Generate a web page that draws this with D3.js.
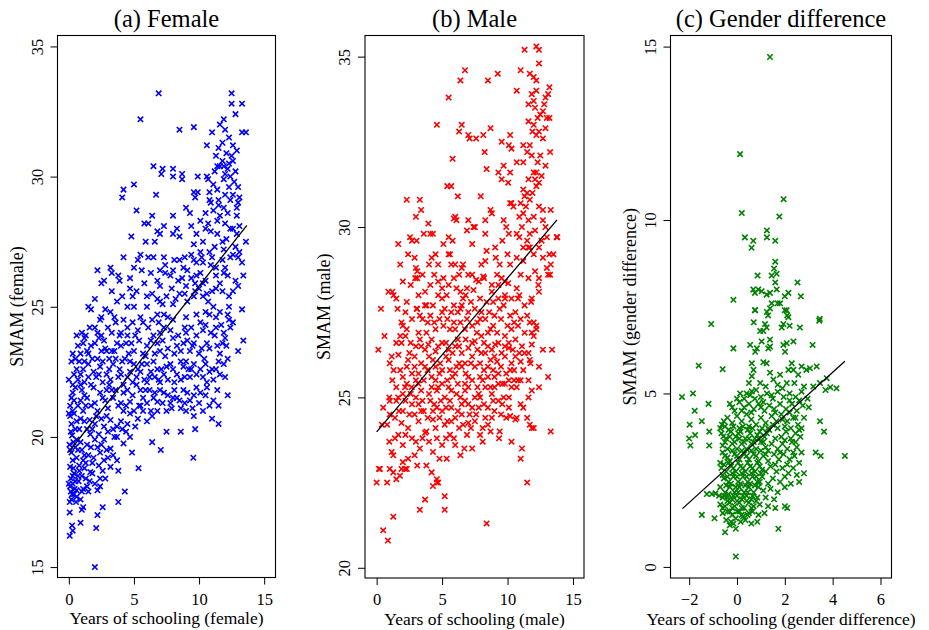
<!DOCTYPE html>
<html>
<head>
<meta charset="utf-8">
<script src="https://cdn.jsdelivr.net/npm/d3@7"></script>
<style>
  body { margin: 0; background: #fff; }
  svg text { font-family: "Liberation Serif", "DejaVu Serif", serif; }
</style>
</head>
<body>
<div id="chart"></div>
<script>
// [years of schooling, SMAM]
const femalePoints = [
  [6.9,33.2],[12.5,33.2],[12.5,32.8],[13.3,32.8],[12.8,32.4],[11.6,32.0],[11.9,32.2],[5.5,32.2],[8.5,31.8],[9.6,31.9],[13.3,31.7],[13.6,31.7],[12.3,31.5],[11.0,31.7],[11.8,31.3],[12.6,31.2],[10.6,31.2],[11.3,30.8],[12.1,30.9],[12.6,30.6],[12.2,30.3],[11.8,30.6],[12.4,30.0],[11.6,30.4],[12.0,30.1],[12.7,29.8],[11.2,30.2],[10.6,30.0],[11.9,29.9],
  [6.5,30.4],[7.2,30.3],[8.0,30.3],[8.7,30.1],
  [4.2,29.5],[4.1,29.2],[5.0,29.7],[6.7,29.3],[7.1,30.1],[8.0,30.0],[8.7,29.9],[9.9,30.0],[10.7,29.9],
  [9.6,29.4],[9.9,29.4],[9.7,29.2],[10.8,29.4],[11.4,29.5],[12.0,29.3],[10.8,29.1],[11.5,29.1],[12.4,29.1],[13.1,29.2],[13.0,29.6],
  [5.2,28.7],[9.0,28.8],[9.3,28.6],[11.1,28.7],[11.6,28.5],[11.9,28.8],[6.4,28.5],[6.1,28.2],[8.0,28.5],[10.1,28.3],[10.7,28.2],[10.9,27.9],[12.0,28.2],[12.9,28.5],[13.1,28.1],
  [5.8,28.2],[6.8,27.9],[7.3,28.1],[7.0,27.8],[8.0,27.8],[8.3,28.0],[8.5,27.7],[9.4,28.1],[9.8,27.8],[4.8,27.7],[5.9,27.5],[6.6,27.5],[9.6,27.4],[10.3,27.5],[12.1,27.6],[13.6,27.5],[12.8,27.3],[11.4,27.8],
  [12.5,30.8],[11.4,30.4],[12.8,30.2],[11.9,30.4],[12.3,29.6],[11.1,29.7],[12.6,29.3],[12.9,28.8],[11.4,28.3],[12.4,28.0],[10.5,28.6],[11.8,27.5],[12.6,27.0],[11.0,26.9],[13.3,26.7],[12.2,26.2],[10.9,26.6],[10.5,28.0],
  [11.5,28.9],[12.2,28.6],[13.0,29.0],[12.6,28.0],[11.2,27.3],[10.2,26.9],[11.8,26.8],[12.9,27.8],[12.3,30.5],[12.9,31.0],[12.0,31.8],[11.5,31.1],[10.9,29.0],[11.9,27.2],
  [4.2,26.9],[5.5,27.0],[6.1,26.9],[6.5,26.9],[7.3,26.9],[8.1,26.8],[8.9,26.9],[9.4,27.0],[9.6,26.8],[10.1,27.1],[10.3,26.7],[10.8,27.1],[11.3,26.5],[12.0,26.5],[12.4,26.9],[13.0,26.9],[13.1,27.1],[2.2,26.4],[3.2,26.5],[3.3,26.3],[5.0,26.5],[5.6,26.4],[7.4,26.6],[7.4,26.3],[8.0,26.4],[8.8,26.5],[9.1,26.4],[9.8,26.7],
  [2.5,25.9],[2.7,26.0],[3.8,26.2],[3.9,26.0],[4.7,26.1],[4.7,25.7],[3.3,25.6],[6.8,26.0],[7.0,25.8],[7.8,26.2],[8.4,26.0],[8.7,26.1],[9.8,26.2],[10.1,26.3],[9.7,25.9],[10.3,25.9],[11.3,26.2],[11.9,26.3],[11.6,25.9],[11.3,25.7],[13.4,26.2],[13.0,25.8],[12.6,25.6],
  [4.5,25.0],[5.2,25.6],[5.8,25.9],[6.4,25.5],[7.2,25.1],[7.9,25.7],[8.5,25.5],[9.0,25.8],[9.4,26.1],[10.0,25.7],[10.6,25.5],[5.3,26.8],[6.3,26.3],[7.0,26.4],[8.5,26.8],[3.7,25.2],[2.8,24.9],
  [7.0,25.2],[8.0,25.1],[8.9,25.5],[9.7,25.6],[10.5,26.0],[11.0,25.6],[11.8,25.6],[12.3,25.4],[12.8,26.0],[12.2,24.7],[11.7,24.3],[10.5,24.8],[5.0,25.0],[3.5,24.6],[2.5,24.6],
  [1.5,25.0],[2.0,25.3],[4.1,25.4],[4.9,25.4],[6.0,25.4],[6.0,25.0],[6.8,25.3],[7.5,25.4],[8.2,25.3],[9.1,25.2],[9.6,25.4],[10.3,25.4],[10.7,25.2],[11.1,25.0],[11.6,24.8],[12.3,25.0],[3.2,24.8],[4.2,24.5],[5.5,24.6],[6.8,24.7],[7.3,24.7],[7.6,24.6],[9.0,24.6],[9.8,24.7],[10.8,24.7],[11.3,24.6],[12.6,24.4],[12.3,24.5],[13.3,24.9],[1.7,24.9],
  [1.0,24.0],[1.2,23.8],[1.4,23.3],[1.7,23.5],[2.3,23.8],[2.4,24.5],[2.7,23.7],[2.9,23.3],[3.6,24.4],[4.5,24.2],[4.5,23.9],[4.8,23.6],[5.3,24.1],[5.7,24.4],[6.1,24.2],[6.5,23.9],[6.8,23.6],[7.0,23.3],[7.3,24.2],[7.8,24.1],[8.4,23.9],[8.8,23.6],[9.1,23.7],[9.3,23.3],[9.8,23.9],[10.1,24.4],[10.6,23.6],[11.2,23.9],[11.9,24.0],[12.1,23.5],[12.2,23.0],[13.4,23.7],[13.0,23.3],[0.6,23.9],[0.3,23.2],[2.0,24.2],[3.1,23.0],[4.0,23.5],[5.9,23.1],[8.1,23.2],[10.4,23.0],[11.6,23.2],
  [1.5,23.2],[2.0,23.6],[2.5,23.3],[3.3,24.0],[3.7,23.6],[4.3,23.0],[0.7,23.5],[1.1,23.6],
  [0.5,23.0],[0.9,23.2],[1.6,24.2],[2.5,23.9],[3.3,23.3],[3.9,23.9],[4.6,23.2],[5.1,23.9],[5.7,23.2],[6.3,23.7],[6.9,24.4],[7.4,23.1],[8.0,23.8],[8.6,23.3],[9.0,24.0],[9.6,23.6],[10.2,23.4],[10.9,24.0],[11.4,23.5],[12.0,23.8],
  [0.4,22.4],[0.8,22.9],[1.1,22.6],[1.3,23.9],[1.8,23.0],[2.1,22.3],[2.6,22.9],[2.8,23.4],[3.1,22.6],[3.5,23.3],[3.8,22.3],[4.1,22.9],[4.4,23.6],[4.7,22.5],[5.0,23.3],[5.2,22.3],[5.4,23.7],[5.6,22.8],[6.0,23.5],[6.3,22.5],[6.6,23.2],[6.9,22.2],[7.2,23.7],[7.5,22.7],[7.6,23.4],[8.0,22.6],[8.3,23.5],[8.6,22.9],[8.9,24.2],[9.2,22.6],[9.5,23.5],[9.8,22.4],[10.0,23.2],[10.3,24.1],[10.5,22.8],[10.8,23.4],[11.0,22.6],[11.3,24.2],[11.5,22.9],[11.8,23.6],[12.4,24.2],[2.2,24.0],[3.0,24.2],[4.0,24.0],[4.9,24.4],[6.4,24.5],[7.0,24.0],[8.0,24.5],[9.4,24.2],[10.5,24.3],
  [0.6,22.6],[0.9,22.4],[1.5,22.8],[1.9,22.5],[2.4,22.7],[2.9,22.4],[3.4,22.8],[3.9,22.6],[4.5,22.3],[5.0,22.8],[5.5,22.5],[6.0,22.8],[6.2,22.3],[6.8,22.6],[7.3,22.4],[7.8,22.8],[8.3,22.4],[8.8,22.7],[9.3,22.3],[9.6,22.8],[10.1,22.6],[10.8,22.5],[11.1,22.2],[11.6,22.4],[11.9,22.8],[0.2,22.9],[1.2,22.9],[2.2,23.0],[3.6,23.0],[4.7,22.9],[5.8,22.2],[6.5,22.9],[7.0,22.1],[8.6,22.2],[9.0,22.9],[0.0,22.2],[1.2,22.1],[2.6,22.1],[4.2,22.0],[0.9,22.0],
  [0.3,22.0],[0.7,22.2],[1.5,22.3],[2.3,22.4],[3.2,22.2],[4.0,22.4],[4.9,22.1],[5.3,22.6],[6.0,22.1],[6.6,22.3],[7.1,22.6],[7.6,22.2],[8.1,22.1],[8.9,22.3],[9.4,22.6],[10.3,22.3],[10.6,22.1],[11.3,22.6],
  [0.3,21.7],[0.5,21.9],[0.9,21.4],[1.7,22.0],[2.4,21.7],[2.9,21.8],[3.4,21.5],[4.2,21.7],[4.7,21.35],[5.2,22.0],[5.7,21.5],[6.2,21.8],[6.8,21.35],[7.3,21.7],[7.8,21.3],[8.3,21.5],[8.8,21.8],[9.3,21.4],[9.8,21.9],[10.1,21.7],[10.3,21.0],[10.0,21.3],[11.1,21.4],[11.5,21.2],[11.4,21.8],[0.1,21.2],[1.3,21.2],[2.0,21.3],[3.0,21.1],[3.8,21.2],[5.0,21.0],[6.3,21.0],[7.5,21.0],[8.6,21.1],[9.0,21.0],
  [0.2,21.5],[0.7,21.2],[1.0,21.8],[1.4,21.5],[1.9,21.9],[2.2,21.0],[2.6,21.5],[3.1,22.0],[3.6,21.8],[4.0,21.3],[4.5,21.8],[4.9,21.6],[5.4,21.2],[5.9,21.8],[6.5,21.5],[7.0,21.8],[7.6,21.6],[8.1,21.8],[8.5,21.4],[9.1,21.7],[9.5,21.1],[10.5,21.6],[10.8,21.2],[12.0,22.3],[12.2,21.6],
  [0.4,21.4],[1.2,21.6],[1.7,21.2],[2.8,21.4],[3.3,21.8],[4.4,21.2],[5.5,21.8],[6.0,21.3],[6.6,21.7],[7.2,21.3],[8.0,21.5],[8.9,21.3],[9.6,21.6],[10.6,21.9],
  [0.1,20.8],[0.4,20.9],[1.1,21.0],[1.6,20.65],[2.1,20.8],[2.7,20.4],[3.2,20.65],[3.7,20.4],[4.2,21.0],[4.7,20.9],[5.1,20.4],[5.7,21.0],[6.0,20.6],[6.4,20.8],[6.8,21.0],[7.9,21.1],[9.6,20.8],[11.0,20.7],[11.5,20.5],[7.5,20.2],[8.6,20.2],[9.7,20.3],[0.8,20.3],[2.3,20.1],[3.5,20.0],[4.4,20.2],[0.0,20.9],[0.3,21.0],[0.6,20.6],
  [0.5,20.3],[1.2,20.6],[1.8,20.3],[2.5,20.7],[3.0,20.2],[4.0,20.6],[4.5,20.5],[0.2,20.5],
  [0.15,20.2],[0.9,20.7],[1.4,20.3],[2.0,20.5],[2.9,20.8],[3.4,20.3],[4.1,20.3],[5.3,20.7],[5.5,21.2],
  [0.25,20.06],[0.6,19.9],[1.0,19.5],[1.4,19.7],[1.65,20.1],[2.2,19.6],[2.7,19.9],[3.2,19.55],[3.7,20.0],[4.2,19.75],[4.7,20.0],[4.85,19.4],[6.4,19.8],[7.06,19.5],[9.56,19.2],[0.6,19.2],[1.1,19.1],[1.9,19.2],[2.7,19.1],[3.2,18.85],[3.7,19.1],[0.2,19.4],[1.5,19.3],[2.4,19.4],
  [0.05,19.7],[0.35,19.8],[0.7,19.5],[0.3,19.1],[0.8,18.7],[1.2,19.3],[0.15,18.4],[0.45,18.0],[0.75,18.3],[1.1,18.0],[0.2,17.6],[0.55,17.5],[1.3,18.4],[1.8,18.6],[1.7,19.6],[2.0,19.9],[2.3,18.9],[2.9,19.5],[3.4,19.3],[2.8,18.4],
  [0.1,19.5],[0.5,19.6],[0.9,19.8],[1.3,19.0],[1.8,19.0],[2.5,19.7],[3.0,19.2],[0.35,18.8],[0.7,18.5],[1.0,17.9],[0.3,18.2],[1.6,18.3],[0.15,17.9],
  [5.35,18.8],[0.1,18.85],[0.4,18.6],[0.0,18.2],[0.25,17.8],[0.6,17.7],[1.0,18.5],[1.4,18.1],[1.65,18.65],[2.0,18.2],[2.4,18.1],[2.4,18.4],[3.8,18.7],[0.1,18.1],[0.5,18.3],[0.6,17.95],[1.5,17.9],[2.2,17.95],[0.3,18.5],[0.8,18.9],[1.2,18.8],[2.6,18.7],
  [4.3,17.9],[3.8,17.5],[2.6,17.3],[1.1,17.3],[1.0,17.2],[2.2,17.0],[0.07,17.5],[0.07,17.1],[0.25,16.6],[0.3,16.4],[0.9,16.7],[2.1,16.5],[0.07,16.2],[2.0,15.0],[0.4,17.8],[0.9,17.6]
];

const malePoints = [
  [12.2,35.3],[12.4,35.2],[11.3,35.2],[12.4,34.8],[11.0,34.6],[11.7,34.5],[12.0,34.4],[12.2,34.3],[9.25,34.5],[8.5,34.3],[6.75,34.6],[6.4,34.3],[10.7,34.0],[13.2,34.1],[13.1,33.9],[12.9,33.8],[12.2,34.0],[11.85,33.9],[12.0,33.7],[5.5,33.8],[11.6,33.6],[12.1,33.5],[12.7,33.4],[12.5,33.3],[13.0,33.2],[13.2,33.2],[11.6,33.1],[12.0,33.0],[12.4,32.8],[12.2,32.7],
  [12.8,33.6],[12.3,33.2],[11.9,32.8],[12.7,32.6],[12.9,32.9],[11.5,32.2],[12.3,31.9],[12.0,31.6],[11.6,31.4],[12.6,31.5],[12.9,31.8],[11.4,30.6],[12.4,30.6],[12.9,30.0],[10.9,30.3],[11.5,29.6],[12.6,29.6],
  [4.6,33.0],[6.5,33.0],[6.3,32.8],[7.0,32.7],[7.1,32.6],[7.6,32.6],[8.15,32.7],[8.7,32.9],[9.55,32.5],[10.2,32.7],[10.1,32.4],[10.3,32.3],[11.2,32.4],[11.7,32.4],[11.85,32.1],[12.5,32.1],[13.25,32.2],[8.25,32.2],[5.8,32.0],[10.7,31.9],[11.2,31.9],[9.7,31.8],[8.4,31.7],[9.3,31.6],[9.55,31.4],[10.05,31.3],[10.2,31.6],[12.2,31.6],[12.1,31.4],[12.4,31.3],[12.2,31.2],[5.4,31.2],[5.7,31.2],
  [7.95,30.9],[6.2,30.9],[2.3,30.8],[3.3,30.8],[3.4,30.5],[3.0,30.3],[11.0,30.7],[11.3,30.9],[11.5,31.0],[11.7,30.8],[11.2,31.1],[11.9,31.0],[10.2,30.7],[10.45,30.6],[10.3,30.7],[12.7,30.5],[13.3,30.5],[8.7,30.5],[8.8,30.4],[8.3,30.2],[5.9,30.25],[6.1,30.2],[6.0,30.3],[7.0,30.2],[7.4,30.0],[7.5,30.0],[9.7,30.2],[9.9,30.0],[10.1,29.8],[10.7,29.8],[11.2,30.4],[11.6,30.2],[12.0,30.3],[12.7,30.2],[11.1,30.0],[11.7,29.8],[12.1,29.9],[13.75,29.7],
  [3.05,29.6],[2.55,29.7],[3.6,29.8],[4.1,29.8],[3.95,30.1],[4.3,29.8],[1.65,29.5],[2.7,29.6],[2.4,29.2],[5.1,29.5],[5.5,29.7],[5.8,29.6],[6.9,29.9],[7.3,29.5],[8.3,29.8],[9.6,29.6],[10.9,29.7],[11.7,29.4],[12.4,29.4],[13.0,29.7],[13.8,29.7],
  [1.8,28.9],[2.9,29.1],[3.0,28.8],[2.95,28.5],[4.0,28.9],[4.2,29.1],[4.5,29.2],[4.7,28.9],[5.5,29.2],[5.6,29.2],[5.7,28.9],[6.5,28.8],[6.6,28.9],[5.9,28.5],[6.3,28.6],[8.4,29.3],[8.3,29.0],[9.05,29.4],[9.1,29.1],[9.4,28.9],[10.2,28.9],[10.0,29.2],[10.7,29.1],[11.2,29.0],[11.2,29.4],[11.6,29.4],[12.0,29.2],[12.7,29.1],[12.1,28.7],[13.2,29.2],[13.5,29.2],[13.3,28.9],[13.0,28.8],[13.1,28.6],[13.25,28.6],[11.0,28.6],[11.6,28.5],[12.35,28.3],[9.55,28.5],[10.05,28.35],[10.7,28.2],[8.8,28.3],[8.15,28.55],[7.6,28.45],[6.9,28.2],[7.4,28.15],[3.1,28.7],[3.1,28.5],[4.7,28.4],[5.1,28.5],[7.3,28.6],[7.8,28.4],[8.2,28.5],[9.3,28.3],[12.4,28.5],
  [5.0,28.2],[4.4,28.6],[6.0,28.9],[7.0,28.6],[8.0,28.9],[9.2,28.6],[9.8,28.4],[3.5,28.6],[2.6,28.3],[2.0,28.4],
  [4.1,28.3],[3.2,28.0],[3.7,28.1],[4.7,28.0],[5.0,27.9],[5.35,28.0],[6.1,28.2],[6.4,28.1],[6.6,27.9],[0.9,28.1],[1.2,28.1],[1.5,27.9],[2.3,27.8],[2.2,27.5],[0.33,27.6],[1.6,27.6],[3.05,27.6],[3.8,27.7],[5.9,27.7],[8.9,27.8],[9.8,27.9],[10.9,28.0],[11.8,27.8],[1.3,28.0],[2.0,27.1],[1.9,27.2],[3.1,27.6],[3.7,27.7],[5.2,27.6],[5.7,27.5],[6.5,27.7],[7.0,27.5],[7.5,27.6],[8.0,27.5],[8.4,27.8],[8.8,28.1],[9.3,27.9],[9.8,28.0],[10.3,27.9],[10.8,27.9],[11.3,27.7],[11.85,27.9],[12.4,28.1],[12.2,27.1],[12.0,27.2],[11.85,26.9],[10.2,27.4],[9.7,27.7],
  [2.2,26.8],[2.7,27.3],[3.5,27.3],[4.1,27.4],[4.8,27.3],[5.4,27.3],[6.2,27.5],[6.9,27.3],[7.7,27.2],[8.3,27.3],[8.6,27.5],[9.5,27.3],[10.6,27.5],[11.0,27.3],[4.3,27.7],[5.5,28.3],[6.8,28.0],[7.9,27.9],[9.0,27.4],[1.8,26.8],[0.6,26.8],[1.5,26.6],
  [3.3,27.4],[3.9,27.2],[4.4,27.2],[5.0,27.5],[5.9,27.2],[6.4,27.6],[7.2,27.8],[7.9,27.3],[8.7,27.0],[9.4,27.6],[10.0,27.1],[10.5,27.2],[11.5,27.4],
  [2.3,27.0],[3.2,26.9],[3.8,26.9],[4.5,27.0],[5.1,27.1],[5.6,27.0],[6.0,27.0],[6.4,27.2],[6.75,27.0],[7.3,27.1],[7.65,26.9],[8.0,26.8],[8.5,26.9],[8.9,27.1],[9.2,26.9],[9.8,26.8],[10.3,27.0],[10.8,27.1],[11.3,26.9],[11.7,27.2],[12.2,27.0],[12.0,26.8],[10.1,26.6],
  [10.6,26.7],[9.0,26.2],[8.2,26.6],[6.2,26.7],[4.0,26.2],[3.3,26.7],
  [2.6,26.6],[3.0,26.5],[3.7,26.4],[4.2,26.7],[4.7,26.5],[5.3,26.6],[5.8,26.3],[6.3,26.5],[6.8,26.7],[7.3,26.6],[7.7,26.4],[8.3,26.3],[8.8,26.4],[9.3,26.6],[9.8,26.5],[10.4,26.4],[10.9,26.3],
  [0.13,26.4],[1.0,26.0],[1.3,25.8],[1.66,26.25],[1.9,26.6],[2.4,26.1],[2.9,26.2],[3.4,26.5],[3.95,26.55],[2.9,25.9],[4.5,26.35],[5.0,26.6],[5.5,26.4],[6.0,26.5],[6.5,26.3],[7.0,26.45],[7.5,26.65],[8.0,26.3],[8.5,26.5],[9.05,26.55],[9.55,26.3],[10.1,26.45],[10.6,26.2],[11.1,26.5],[11.6,26.3],[11.85,26.55],[12.7,26.4],[13.4,26.4],[4.85,26.0],[5.5,26.1],[6.1,25.9],[6.75,26.0],[7.3,26.2],[7.9,26.0],[8.5,25.9],[9.2,26.05],[9.8,26.2],[10.3,26.0],[11.0,26.05],[11.75,26.0],[12.4,25.9],[11.3,26.3],[11.7,26.1],[1.15,26.2],[11.2,25.8],
  [2.3,25.9],[3.7,25.9],[4.5,25.9],[5.0,25.8],[5.6,25.8],[6.5,25.9],[7.0,25.6],[7.5,25.9],[8.1,25.5],[8.9,25.8],[9.6,25.4],[10.2,25.8],[1.8,25.8],[1.2,25.5],
  [2.0,25.6],[2.5,26.3],[3.0,25.5],[3.4,26.0],[3.9,25.8],[4.3,26.1],[4.8,25.7],[5.3,26.2],[5.8,25.6],[6.3,26.0],[6.8,25.7],[7.2,26.0],[7.7,25.3],[8.2,25.8],[8.7,26.1],[9.0,25.6],[9.5,25.9],[9.9,25.7],[10.5,25.8],
  [1.5,25.3],[2.3,25.4],[2.7,25.7],[3.2,25.7],[3.6,25.5],[4.2,25.6],[4.7,25.3],[5.4,25.5],[6.0,25.7],[6.75,25.4],[7.3,25.5],[7.9,25.6],[8.7,25.3],[9.3,25.7],[10.1,25.5],[10.7,25.3],[11.6,25.5],[12.4,25.3],[13.1,25.6],[11.85,25.2],[11.6,25.0],[10.1,25.0],[10.3,25.3],[10.5,25.5],[11.0,25.5],[1.65,25.0],[0.97,25.0],[2.17,25.3],[2.68,25.3],[3.19,25.4],[4.2,25.3],[4.6,25.2],[5.0,25.4],[5.2,25.0],[5.7,25.2],[6.2,25.4],[6.75,25.2],[7.8,25.1],[8.3,25.3],[8.8,25.1],[9.3,25.4],[9.8,25.4],[10.8,25.5],
  [2.0,25.1],[2.6,25.1],[3.4,25.2],[4.0,25.1],[4.5,25.5],[5.5,25.3],[6.4,25.0],[7.0,25.3],[7.5,25.0],[8.5,25.6],[9.0,25.3],[9.7,25.0],
  [5.6,24.9],[6.1,25.1],[6.5,24.5],[7.0,24.8],[7.6,24.5],[8.2,24.8],[8.8,24.4],[9.3,24.9],[4.9,24.9],[5.4,24.3],[6.0,24.4],[6.6,24.2],[4.4,24.8],[3.9,24.4],[3.0,25.0],[2.5,24.5],[1.4,24.4],
  [1.5,24.9],[2.0,24.6],[2.9,24.5],[3.5,24.9],[4.3,24.6],[4.8,24.4],[5.3,24.7],[6.5,24.8],[7.1,24.5],[7.8,24.7],[8.3,24.4],[8.9,24.9],[9.6,24.8],
  [0.5,24.7],[1.0,24.9],[1.7,24.6],[2.2,24.9],[2.7,24.8],[3.2,24.8],[3.6,24.6],[4.1,24.9],[4.6,24.7],[5.0,24.6],[5.7,24.7],[6.2,24.6],[6.75,24.9],[7.3,24.7],[7.9,25.0],[8.5,24.7],[9.0,24.6],[9.5,24.5],[10.1,24.7],[10.7,24.4],[11.0,24.8],[11.2,24.7],[12.0,24.1],[11.7,24.2],[11.85,24.1],[9.9,24.4],[10.2,24.45],[10.6,24.35],[0.8,24.2],[1.9,24.25],[2.4,24.1],[3.2,24.3],[3.8,24.0],[4.3,24.35],[5.2,24.2],[5.7,24.3],[6.3,24.1],[7.0,24.25],[7.5,24.3],[8.1,24.1],[8.5,24.2],[9.4,24.0],[13.3,24.0],[11.5,24.4],
  [1.4,23.8],[2.2,23.9],[3.0,23.7],[3.5,23.8],[4.5,24.1],[5.3,23.8],[6.0,23.6],[6.9,23.9],[1.0,24.5],[0.4,24.2],
  [7.2,24.1],[7.9,23.9],[8.7,24.0],[4.8,23.2],[5.6,23.9],[3.4,24.6],[2.9,23.3],[1.9,22.9],
  [0.97,23.7],[1.15,23.4],[1.27,23.3],[1.66,23.9],[2.0,23.6],[2.4,23.2],[2.7,23.8],[3.3,23.5],[3.7,23.96],[4.0,23.7],[4.3,23.4],[4.6,23.8],[5.0,23.6],[5.35,23.2],[5.9,23.8],[6.4,23.3],[6.7,23.5],[7.3,23.5],[8.1,23.7],[9.35,23.8],[10.3,23.7],[11.1,23.5],[11.0,23.2],[3.1,23.0],[3.8,23.0],[4.2,22.8],[2.0,23.1],
  [0.25,22.9],[0.0,22.5],[0.8,22.5],[1.27,22.8],[1.78,22.7],[2.3,22.9],[1.5,22.6],[0.18,22.9],[1.0,22.9],[2.17,22.9],[4.6,22.5],[4.3,22.4],[4.7,22.5],[5.2,22.1],[5.2,21.7],[3.7,22.0],[3.3,21.7],[1.27,21.5],[0.5,21.1],[0.86,20.8],[11.5,22.5],[8.4,21.3],[4.6,22.6]
];

const diffPoints = [
  [1.38,14.7],[0.13,11.9],[0.2,10.2],[1.95,10.6],[1.77,10.1],[1.25,9.7],[1.25,9.5],[1.6,9.4],[0.33,9.5],[0.68,9.4],[0.61,9.2],[1.6,8.8],[1.55,8.6],[1.45,8.4],[1.66,8.45],[1.6,8.2],[0.86,8.4],[2.53,8.2],[-0.15,7.7],[0.68,8.0],[0.75,7.9],[0.89,8.0],[1.03,7.95],[1.24,7.85],[1.38,7.9],[1.66,8.0],[2.0,7.8],[2.15,7.9],[2.67,7.8],[1.45,7.6],[1.7,7.6],[0.75,7.4],[1.25,7.35],[1.3,7.25],[2.0,7.4],[2.1,7.25],[3.46,7.15],
  [0.76,7.4],[1.38,7.45],[1.8,7.6],[2.08,7.4],[2.15,7.2],[-1.08,7.0],[0.7,7.05],[1.17,7.0],[1.24,6.9],[0.97,6.8],[1.1,6.8],[1.94,7.0],[1.87,6.9],[2.2,6.95],[2.63,6.9],[3.44,7.1],[1.03,6.5],[1.38,6.55],[1.38,6.35],[1.31,6.3],[0.83,6.3],[0.55,6.4],[0.76,6.2],[-0.15,6.3],[1.94,6.4],[2.08,6.45],[2.36,6.5],[2.01,6.2],[3.16,6.4],
  [-1.6,5.8],[-0.6,5.7],[0.62,5.87],[0.69,5.68],[1.1,5.9],[1.24,5.87],[1.38,5.6],[0.62,5.5],[2.15,5.68],[2.29,5.87],[2.36,5.68],[2.56,5.54],[2.7,5.78],[2.9,5.68],[3.05,5.73],[3.33,5.78],[3.75,5.44],[3.9,5.18],[3.7,5.1],[4.16,5.15],[1.8,5.54],[1.52,5.4],[0.97,5.3],[2.08,5.3],[0.5,5.3],[1.2,5.2],[1.7,5.25],[2.4,5.3],[2.8,5.2],
  [-2.3,4.9],[-1.84,5.0],[0.13,5.0],[0.62,5.06],[3.19,5.2],[3.47,5.3],[0.3,4.85],[0.55,4.95],[0.8,5.1],[1.0,4.9],[1.25,5.0],[1.5,4.85],[1.7,5.05],[1.95,4.9],[2.2,5.0],[2.45,4.9],[2.7,5.05],[2.95,4.85],[2.6,4.8],[1.1,4.75],
  [-0.2,4.6],[0.2,4.5],[0.6,4.45],[1.0,4.6],[0.0,4.85],[0.4,5.0],[0.75,4.85],[1.45,4.95],[1.9,5.15],[2.2,4.8],
  [-1.77,4.5],[-1.19,4.7],[-1.47,4.2],[-1.98,4.1],[-0.63,4.1],[-0.7,4.0],[-0.3,4.7],[-0.1,4.5],[0.1,4.75],[0.3,4.6],[0.5,4.7],[0.7,4.55],[0.9,4.7],[1.15,4.5],[1.35,4.65],[1.55,4.55],[1.8,4.7],[2.05,4.55],[2.3,4.7],[2.5,4.5],[2.75,4.65],[3.0,4.6],[3.47,4.2],[-0.4,4.3],[-0.2,4.15],[0.0,4.35],[0.2,4.2],[0.4,4.4],[0.6,4.25],[0.8,4.1],[1.0,4.3],[1.2,4.15],[1.45,4.35],[1.65,4.2],[1.85,4.4],[2.1,4.2],[2.35,4.3],[2.55,4.1],[2.8,4.3],[-0.5,4.05],[0.1,4.0],[0.5,4.05],[1.3,4.0],[2.0,4.05],[2.7,4.0],
  [1.6,4.45],[1.9,4.25],[2.2,4.45],[2.45,4.3],[1.7,4.0],[2.25,4.0],[2.45,3.6],[2.6,3.95],[1.6,3.7],[2.0,3.65],[1.8,3.3],[2.35,3.3],[2.1,2.95],[1.6,2.95],[2.5,2.65],[1.3,3.35],[1.5,4.1],
  [-1.75,3.8],[-2.0,3.7],[-1.95,3.5],[-1.16,3.9],[-1.16,3.5],[-0.57,3.76],[3.64,3.9],[3.29,3.3],[3.5,3.2],[4.51,3.2],[-0.65,3.85],[-0.45,3.7],[-0.25,3.9],[-0.05,3.75],[0.15,3.9],[0.35,3.7],[0.55,3.85],[0.75,3.7],[0.95,3.9],[1.15,3.75],[1.35,3.95],[1.85,3.75],[2.05,3.9],[2.25,3.7],[2.45,3.85],[2.65,3.75],
  [-0.55,4.2],[-0.35,3.95],[-0.15,4.05],[0.05,3.85],[0.25,4.05],[0.45,3.95],[0.65,4.0],[0.85,3.8],[1.05,4.0],[1.25,3.85],
  [-0.5,3.6],[-0.3,3.75],[-0.1,3.6],[0.1,3.7],[0.3,3.6],[0.5,3.7],[0.7,3.6],[0.9,3.7],[1.1,3.6],[-0.6,3.3],[-0.4,3.15],[-0.2,3.35],[0.0,3.2],[0.2,3.35],[0.4,3.2],[0.6,3.35],[0.8,3.2],[1.0,3.35],[1.2,3.25],
  [-0.6,3.5],[-0.4,3.4],[-0.2,3.55],[0.0,3.4],[0.2,3.55],[0.4,3.4],[0.6,3.55],[0.8,3.4],[1.0,3.6],[1.2,3.45],[1.45,3.55],[1.7,3.4],[1.9,3.55],[2.1,3.4],[2.3,3.6],[2.5,3.45],[2.7,3.3],[-0.5,3.2],[-0.3,3.05],[-0.1,3.25],[0.1,3.1],[0.3,3.25],[0.5,3.1],[0.7,3.25],[0.9,3.05],[1.1,3.2],[1.3,3.05],[1.55,3.25],[1.75,3.1],[1.95,3.25],[2.2,3.1],[2.4,3.2],[-0.7,3.0],[2.6,3.0],
  [-0.55,2.95],[-0.35,3.0],[-0.15,2.85],[0.05,3.0],[0.25,2.85],[0.45,3.0],[0.65,2.85],[0.85,3.0],[1.05,2.8],
  [-0.65,2.85],[-0.45,2.75],[-0.25,2.9],[-0.05,2.75],[0.15,2.9],[0.35,2.75],[0.55,2.9],[0.75,2.75],[0.95,2.9],[1.2,2.75],[1.4,2.9],[1.65,2.75],[1.9,2.85],[2.15,2.7],[2.35,2.85],[-0.55,2.55],[-0.35,2.45],[-0.15,2.6],[0.05,2.45],[0.25,2.6],[0.45,2.45],[0.65,2.6],[0.85,2.45],[1.05,2.6],[1.3,2.4],[1.5,2.55],[1.8,2.45],[2.0,2.6],[2.25,2.4],[2.6,2.45],[2.8,2.7],
  [-0.6,2.65],[-0.4,2.6],[-0.2,2.7],[0.0,2.6],[0.2,2.7],[0.4,2.6],[0.6,2.7],[0.8,2.6],[1.0,2.7],[-0.45,2.35],[-0.25,2.4],[-0.05,2.3],[0.15,2.4],[0.35,2.35],[0.55,2.4],[0.75,2.35],[0.95,2.45],
  [-0.7,2.3],[-0.5,2.15],[-0.3,2.3],[-0.1,2.15],[0.1,2.3],[0.3,2.15],[0.5,2.3],[0.7,2.15],[0.9,2.3],[1.1,2.2],[1.4,2.25],[1.7,2.15],[2.0,2.3],[-1.26,2.1],[-1.05,2.1],[-0.9,2.12],[-0.75,2.05],[-0.6,2.0],[-0.4,2.0],[-0.2,1.95],[0.0,2.05],[0.2,1.95],[0.4,2.05],[0.6,1.95],[0.85,2.0],[1.2,2.0],[1.55,1.95],
  [-0.55,2.05],[-0.35,2.1],[-0.15,2.05],[0.05,2.15],[0.25,2.05],[0.45,2.15],[0.65,2.05],
  [-0.6,1.7],[-0.4,1.9],[-0.2,1.7],[0.0,1.9],[0.2,1.7],[0.4,1.9],[0.6,1.7],[0.8,1.9],[-0.3,1.6],[0.1,1.6],[0.5,1.55],[-0.15,1.25],[0.25,1.45],
  [-0.7,1.8],[-0.5,1.75],[-0.3,1.85],[-0.1,1.75],[0.1,1.85],[0.3,1.7],[0.5,1.85],[0.7,1.75],[0.95,1.8],[1.3,1.75],[1.6,1.7],[-0.6,1.55],[-0.4,1.6],[-0.2,1.5],[0.0,1.6],[0.2,1.5],[0.44,1.5],[0.65,1.6],[0.9,1.5],[1.15,1.55],[-0.45,1.35],[-0.25,1.3],[-0.05,1.4],[0.15,1.3],[0.35,1.35],[0.6,1.25],[0.85,1.3],[-0.5,1.0],[-0.05,1.1],[1.73,1.1],[2.0,1.75],[2.1,1.7],[-1.47,1.5],[-0.94,1.4],[-0.3,1.2],[-0.05,0.3]
];

// fitted lines, end points in data units
const femaleFit = [[0, 19.42], [13.67, 28.13]];
const maleFit = [[0, 23.99], [13.78, 30.21]];
const diffFit = [[-2.28, 1.68], [4.51, 5.93]];

const femaleTicksX = [0, 5, 10, 15];
const femaleTicksY = [15, 20, 25, 30, 35];
const maleTicksX = [0, 5, 10, 15];
const maleTicksY = [20, 25, 30, 35];
const diffTicksX = [-2, 0, 2, 4, 6];
const diffTicksY = [0, 5, 10, 15];

const panelTitles = ['(a) Female', '(b) Male', '(c) Gender difference'];
const xTitles = ['Years of schooling (female)', 'Years of schooling (male)', 'Years of schooling (gender difference)'];
const yTitles = ['SMAM (female)', 'SMAM (male)', 'SMAM (gender difference)'];

const FONT = '"Liberation Serif", "DejaVu Serif", serif';

class ScatterPanel {
    constructor(svg, {left, top, width, height, xDomain, yDomain, colour}) {
        this.svg = svg;
        this.width = width;
        this.height = height;
        this.xDomain = xDomain;
        this.yDomain = yDomain;
        this.colour = colour;
        this.g = svg.append('g').attr('transform', `translate(${left},${top})`);
    }

    get scaleX() {
        return d3.scaleLinear().domain(this.xDomain).range([0, this.width]);
    }

    get scaleY() {
        return d3.scaleLinear().domain(this.yDomain).range([this.height, 0]);
    }

    drawAxes(xTicks, yTicks) {
        const xAxis = this.g.append('g')
            .attr('transform', `translate(0,${this.height})`)
            .call(d3.axisBottom(this.scaleX).tickValues(xTicks).tickSize(7));
        xAxis.select('.domain').remove();
        xAxis.selectAll('text')
            .attr('y', 27).attr('dy', null)
            .attr('font-size', 16.5).attr('fill', '#000');

        const yAxis = this.g.append('g')
            .call(d3.axisLeft(this.scaleY).tickValues(yTicks).tickSize(7));
        yAxis.select('.domain').remove();
        yAxis.selectAll('text')
            .attr('transform', 'rotate(-90)')
            .attr('x', 0).attr('y', -15).attr('dy', null)
            .attr('text-anchor', 'middle')
            .attr('font-size', 16.5).attr('fill', '#000');

        [xAxis, yAxis].forEach(ax => ax.attr('font-family', FONT));
        this.g.selectAll('.tick line').attr('stroke', '#000');
    }

    drawFrame() {
        this.g.append('rect')
            .attr('width', this.width)
            .attr('height', this.height)
            .attr('fill', 'none')
            .attr('stroke', '#000')
            .attr('stroke-width', 1.1);
    }

    drawPoints(points) {
        const s = 2.7;
        this.g.append('g').selectAll('path')
            .data(points)
            .join('path')
            .attr('transform', d => `translate(${this.scaleX(d[0])},${this.scaleY(d[1])})`)
            .attr('d', `M${-s},${-s}L${s},${s}M${-s},${s}L${s},${-s}`)
            .attr('stroke', this.colour)
            .attr('stroke-width', 1.6)
            .attr('fill', 'none');
    }

    drawFit(fit) {
        const line = d3.line()
            .x(d => this.scaleX(d[0]))
            .y(d => this.scaleY(d[1]));
        this.g.append('path')
            .attr('d', line(fit))
            .attr('fill', 'none')
            .attr('stroke', '#000')
            .attr('stroke-width', 1.3);
    }

    drawTitles(title, xTitle, yTitle) {
        this.g.append('text')
            .attr('x', this.width / 2).attr('y', -8.5)
            .attr('text-anchor', 'middle')
            .attr('font-family', FONT)
            .attr('font-size', 24.5)
            .text(title);
        this.g.append('text')
            .attr('x', this.width / 2).attr('y', this.height + 46.5)
            .attr('text-anchor', 'middle')
            .attr('font-family', FONT)
            .attr('font-size', 17.5)
            .text(xTitle);
        this.g.append('text')
            .attr('transform', `translate(-35,${this.height / 2}) rotate(-90)`)
            .attr('text-anchor', 'middle')
            .attr('font-family', FONT)
            .attr('font-size', 18)
            .text(yTitle);
    }
}

const svg = d3.select('#chart').append('svg')
    .attr('width', 929)
    .attr('height', 630)
    .attr('font-family', FONT);

const layout = [
    {left: 57.5, top: 35.5, width: 218, height: 542, xDomain: [-0.87, 15.87], yDomain: [14.6, 35.42], colour: '#0000ff'},
    {left: 365, top: 35.5, width: 219, height: 542.5, xDomain: [-0.89, 15.84], yDomain: [19.7, 35.62], colour: '#ff0000'},
    {left: 670.5, top: 35.5, width: 221, height: 542.5, xDomain: [-2.78, 6.46], yDomain: [-0.32, 15.32], colour: '#008000'}
];
const pointSets = [femalePoints, malePoints, diffPoints];
const fits = [femaleFit, maleFit, diffFit];
const xTickSets = [femaleTicksX, maleTicksX, diffTicksX];
const yTickSets = [femaleTicksY, maleTicksY, diffTicksY];

layout.forEach((opts, i) => {
    const panel = new ScatterPanel(svg, opts);
    panel.drawPoints(pointSets[i]);
    panel.drawFit(fits[i]);
    panel.drawFrame();
    panel.drawAxes(xTickSets[i], yTickSets[i]);
    panel.drawTitles(panelTitles[i], xTitles[i], yTitles[i]);
});
</script>
</body>
</html>
